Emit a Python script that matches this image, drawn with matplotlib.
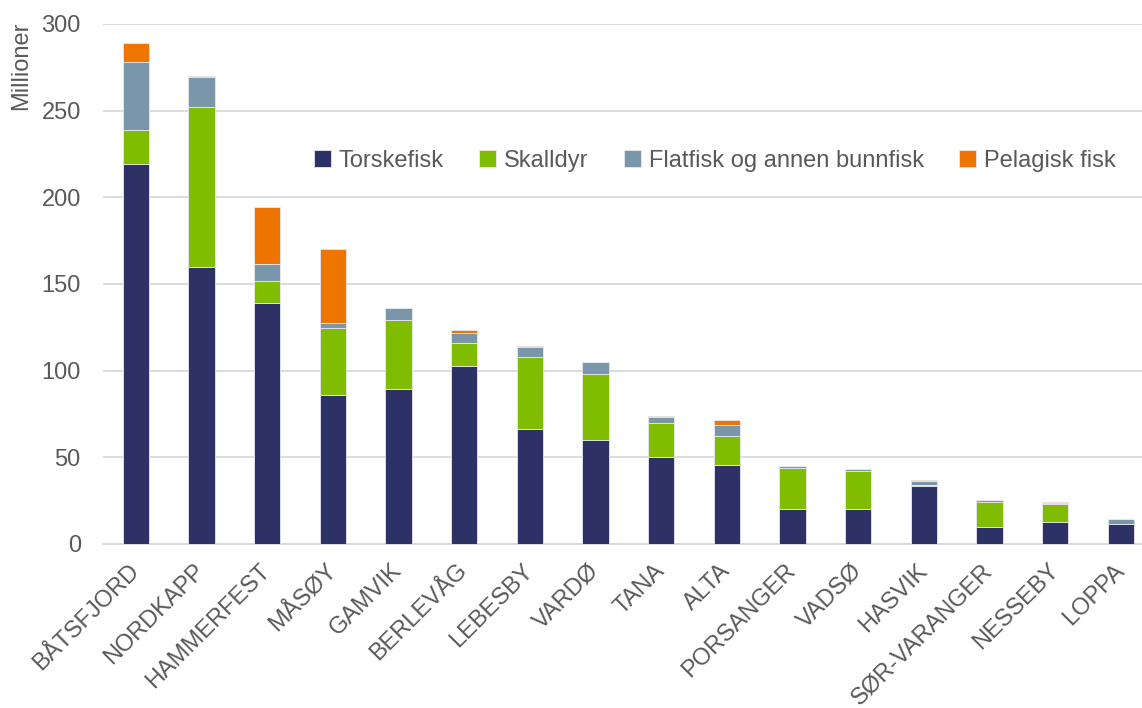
import matplotlib
matplotlib.use('Agg')
import matplotlib.pyplot as plt
import matplotlib.transforms as mtransforms
import numpy as np

plt.rcParams['font.family'] = ['Liberation Sans', 'DejaVu Sans']

kommuner = ['BÅTSFJORD', 'NORDKAPP', 'HAMMERFEST', 'MÅSØY', 'GAMVIK', 'BERLEVÅG',
            'LEBESBY', 'VARDØ', 'TANA', 'ALTA', 'PORSANGER', 'VADSØ', 'HASVIK',
            'SØR-VARANGER', 'NESSEBY', 'LOPPA']
torskefisk = [219.2, 160.0, 139.2, 86.0, 89.4, 102.9, 66.5, 60.0, 50.4, 45.8, 20.0, 20.4, 33.5, 10.0, 12.9, 11.5]
skalldyr = [19.6, 91.9, 12.7, 38.8, 40.0, 12.9, 41.4, 38.3, 19.2, 16.3, 24.0, 21.7, 0.3, 14.4, 10.4, 0.2]
flatfisk = [39.1, 17.3, 9.6, 2.5, 6.9, 5.7, 5.9, 6.5, 3.9, 6.4, 1.0, 1.2, 2.7, 1.0, 0.3, 2.7]
pelagisk = [11.3, 0.6, 32.7, 43.1, 0.0, 2.2, 0.4, 0.0, 0.3, 3.0, 0.0, 0.0, 0.4, 0.2, 0.6, 0.3]

serier = [('Torskefisk', torskefisk, '#2E3165'),
          ('Skalldyr', skalldyr, '#80BC00'),
          ('Flatfisk og annen bunnfisk', flatfisk, '#7A96AA'),
          ('Pelagisk fisk', pelagisk, '#EE7600')]

tekst = '#595959'
fs = 17
fig = plt.figure(figsize=(11.42, 7.08), dpi=100)
ax = fig.add_axes([103 / 1142, 164 / 708, 1039 / 1142, 520 / 708])

x = np.arange(len(kommuner))
bunn = np.zeros(len(kommuner))
for navn, verdier, farge in serier:
    v = np.array(verdier)
    ax.bar(x, v, width=0.4, bottom=bunn, color=farge, label=navn,
           edgecolor='#E8E8EE', linewidth=0.6, zorder=3)
    bunn += v

ax.set_ylim(0, 300)
ax.set_xlim(-0.5, 15.32)
ax.set_yticks(range(0, 301, 50))
ax.yaxis.grid(True, color='#D9D9D9', linewidth=1.3, zorder=0)
for s in ['top', 'right', 'left']:
    ax.spines[s].set_visible(False)
ax.spines['bottom'].set_color('#D9D9D9')
ax.spines['bottom'].set_linewidth(1.3)
ax.tick_params(axis='y', length=0, labelsize=fs, colors=tekst, pad=16)
ax.tick_params(axis='x', length=0, labelsize=fs, colors=tekst, pad=12)
ax.set_xticks(x)
ax.set_xticklabels(kommuner, rotation=45, ha='right', va='top', rotation_mode='anchor')
# flytt etikettene litt til venstre
forskyv = mtransforms.ScaledTranslation(-8 / 100, 1 / 100, fig.dpi_scale_trans)
for lbl in ax.get_xticklabels():
    lbl.set_transform(lbl.get_transform() + forskyv)

fig.text(21 / 1142, 1 - 22 / 708, 'Millioner', rotation=90, ha='center', va='top',
         fontsize=fs, color=tekst)

leg = ax.legend(loc='center', bbox_to_anchor=(715 / 1142, 1 - 161 / 708),
                bbox_transform=fig.transFigure, ncol=4, frameon=False,
                fontsize=fs, handlelength=0.7, handleheight=0.7,
                handletextpad=0.35, columnspacing=1.5)
for t in leg.get_texts():
    t.set_color(tekst)

fig.savefig('out.png', dpi=100)
